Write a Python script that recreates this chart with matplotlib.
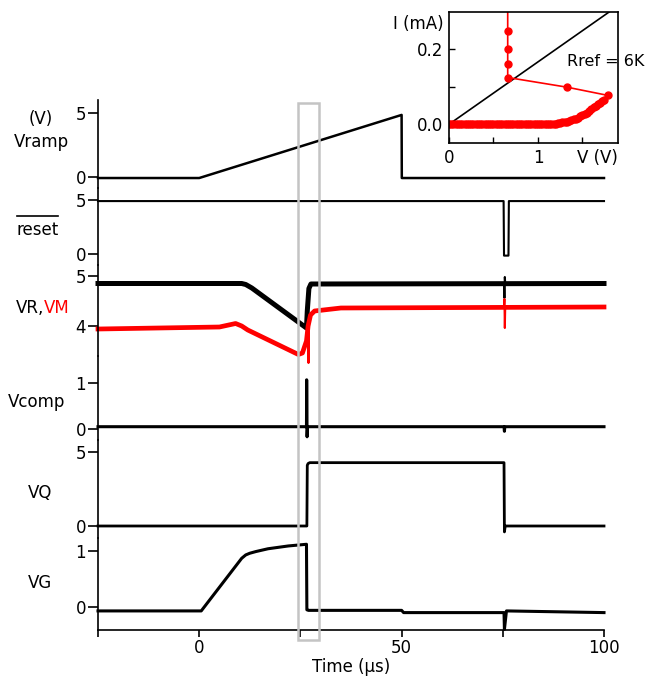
import matplotlib
matplotlib.use('Agg')
import matplotlib.pyplot as plt
from matplotlib.patches import Rectangle
from matplotlib.lines import Line2D
import matplotlib.transforms as mtransforms

plt.rcParams['font.family'] = ['DejaVu Sans']

# ---------------- data ----------------
# time in microseconds, voltages in V
t_ramp = [-25, 0, 50, 50.05, 100]
v_ramp = [-0.08, -0.08, 4.85, -0.08, -0.08]

t_reset = [-25, 75.2, 75.3, 76.4, 76.5, 100]
v_reset = [4.9, 4.9, -0.15, -0.15, 4.9, 4.9]

t_vr = [-25, 10.5, 11.5, 13, 26.5, 26.7, 27.1, 27.6, 100]
v_vr = [4.85, 4.85, 4.83, 4.76, 3.96, 4.3, 4.75, 4.84, 4.85]
t_vr_spike = [75.3, 75.4, 75.5, 75.6]
v_vr_spike = [4.85, 4.56, 4.98, 4.85]

t_vm = [-25, 5, 9, 10.5, 12, 24.5, 25.5, 26.5, 26.9, 27.5, 28.5, 35, 100]
v_vm = [3.94, 3.98, 4.05, 4.0, 3.92, 3.43, 3.46, 3.7, 4.0, 4.22, 4.3, 4.36, 4.38]
t_vm_spike1 = [26.9, 27.0, 27.1]
v_vm_spike1 = [4.0, 3.26, 4.1]
t_vm_spike2 = [75.3, 75.4, 75.5, 75.6]
v_vm_spike2 = [4.37, 4.54, 3.96, 4.37]

t_comp = [-25, 26.5, 26.55, 26.65, 26.75, 75.3, 75.4, 75.5, 100]
v_comp = [0.05, 0.05, 1.07, -0.17, 0.05, 0.05, -0.05, 0.05, 0.05]

t_vq = [-25, 26.6, 26.7, 26.9, 27.3, 75.3, 75.4, 75.6, 100]
v_vq = [0.0, 0.0, 4.1, 4.22, 4.28, 4.28, -0.4, 0.0, 0.0]

t_vg = [-25, 0.5, 10.5, 11.5, 12.5, 14, 17, 22, 26.5, 26.6, 27, 50, 50.5, 75.3, 75.4, 75.9, 100]
v_vg = [-0.07, -0.07, 0.87, 0.93, 0.96, 0.99, 1.04, 1.09, 1.12, -0.05, -0.06, -0.06, -0.1, -0.1, -0.4, -0.07, -0.1]

highlight_window = (24.4, 29.6)

# inset: I-V curve (V in volts, I in mA)
iv_v = [0.000, 0.025, 0.050, 0.075, 0.100, 0.125, 0.150, 0.175, 0.200, 0.225,
        0.250, 0.275, 0.300, 0.325, 0.350, 0.375, 0.400, 0.425, 0.450, 0.475,
        0.500, 0.525, 0.550, 0.575, 0.600, 0.625, 0.650, 0.675, 0.700, 0.725,
        0.750, 0.775, 0.800, 0.825, 0.850, 0.875, 0.900, 0.925, 0.950, 0.975,
        1.000, 1.025, 1.050, 1.075, 1.100, 1.125, 1.150, 1.175, 1.200, 1.225,
        1.250, 1.275, 1.300, 1.325, 1.350, 1.375, 1.400, 1.425, 1.450, 1.475,
        1.500, 1.525, 1.550, 1.575, 1.600, 1.625, 1.650, 1.675, 1.700, 1.720,
        1.740, 1.790, 1.330, 0.660, 0.660, 0.660, 0.660, 0.660]
iv_i = [0.000, 0.000, 0.000, 0.000, 0.000, 0.000, 0.000, 0.000, 0.000, 0.000,
        0.000, 0.000, 0.000, 0.000, 0.000, 0.000, 0.000, 0.000, 0.000, 0.000,
        0.000, 0.000, 0.000, 0.000, 0.000, 0.000, 0.000, 0.000, 0.000, 0.000,
        0.000, 0.000, 0.000, 0.000, 0.000, 0.000, 0.000, 0.000, 0.000, 0.000,
        0.000, 0.000, 0.001, 0.001, 0.001, 0.001, 0.002, 0.002, 0.002, 0.003,
        0.004, 0.005, 0.006, 0.007, 0.009, 0.011, 0.013, 0.015, 0.018, 0.021,
        0.024, 0.027, 0.031, 0.035, 0.040, 0.045, 0.049, 0.053, 0.057, 0.061,
        0.065, 0.077, 0.099, 0.125, 0.160, 0.200, 0.250, 0.400]
rref_v = [0.0, 1.8]
rref_i = [0.0, 0.3]

# ---------------- figure ----------------
W, H = 646, 688
fig = plt.figure(figsize=(W / 100, H / 100), dpi=100)


def fx(px):
    return px / W


def fy(py):
    return 1 - py / H


XL, XR = 98, 604
FS = 12
RED = '#ff0000'


def panel(top, bot, v0, p0, v1, p1):
    ax = fig.add_axes([fx(XL), fy(bot), (XR - XL) / W, (bot - top) / H])
    ppv = (p0 - p1) / (v1 - v0)
    ax.set_ylim(v0 - (bot - p0) / ppv, v0 + (p0 - top) / ppv)
    ax.set_xlim(-25, 100)
    for s in ['top', 'right', 'bottom']:
        ax.spines[s].set_visible(False)
    ax.spines['left'].set_linewidth(1.2)
    ax.set_yticks([v0, v1])
    ax.tick_params(axis='y', direction='out', length=7, width=1.2,
                   labelsize=FS, pad=1.5)
    ax.tick_params(axis='x', bottom=False, labelbottom=False)
    ax.patch.set_visible(False)
    return ax


ax1 = panel(100, 188, 0, 177, 5, 113)
ax2 = panel(188, 265, 0, 254, 5, 200)
ax3 = panel(265, 356, 4, 326, 5, 276)
ax4 = panel(356, 440, 0, 429, 1, 383)
ax5 = panel(440, 538, 0, 526, 5, 452)
ax6 = panel(538, 630, 0, 607, 1, 551)

ax1.plot(t_ramp, v_ramp, color='black', lw=1.8, clip_on=False)
ax2.plot(t_reset, v_reset, color='black', lw=1.5, clip_on=False)
ax3.plot(t_vr, v_vr, color='black', lw=3.6, clip_on=False)
ax3.plot(t_vr_spike, v_vr_spike, color='black', lw=1.5, clip_on=False)
ax3.plot(t_vm, v_vm, color=RED, lw=3.4, clip_on=False)
ax3.plot(t_vm_spike1, v_vm_spike1, color=RED, lw=1.5, clip_on=False)
ax3.plot(t_vm_spike2, v_vm_spike2, color=RED, lw=1.5, clip_on=False)
ax4.plot(t_comp, v_comp, color='black', lw=2.2, clip_on=False)
ax5.plot(t_vq, v_vq, color='black', lw=2.0, clip_on=False)
ax6.plot(t_vg, v_vg, color='black', lw=2.2, clip_on=False)

# bottom time axis
ax6.spines['bottom'].set_visible(True)
ax6.spines['bottom'].set_linewidth(1.2)
ax6.set_xticks([0, 50, 100])
ax6.set_xticks([-25, 25, 75], minor=True)
ax6.tick_params(axis='x', which='both', bottom=True, labelbottom=True,
                direction='out', length=5, width=1.2, labelsize=FS, pad=1.5)
ax6.set_xlabel('Time (µs)', fontsize=FS, labelpad=1)

# panel labels
fig.text(fx(41), fy(119), '(V)', fontsize=FS, ha='center', va='center')
fig.text(fx(41), fy(142), 'Vramp', fontsize=FS, ha='center', va='center')
fig.text(fx(38), fy(230), 'reset', fontsize=FS, ha='center', va='center')
fig.add_artist(Line2D([fx(17), fx(58)], [fy(216), fy(216)], color='black', lw=1.2,
                      transform=fig.transFigure))
fig.text(fx(44), fy(308), 'VR,', fontsize=FS, ha='right', va='center')
fig.text(fx(44), fy(308), 'VM', fontsize=FS, ha='left', va='center', color=RED)
fig.text(fx(37), fy(402), 'Vcomp', fontsize=FS, ha='center', va='center')
fig.text(fx(40), fy(493), 'VQ', fontsize=FS, ha='center', va='center')
fig.text(fx(40), fy(583), 'VG', fontsize=FS, ha='center', va='center')

# gray highlight box
trans = mtransforms.blended_transform_factory(ax6.transData, fig.transFigure)
rect = Rectangle((highlight_window[0], fy(640)), highlight_window[1] - highlight_window[0],
                 fy(103) - fy(640), transform=trans, fill=False,
                 edgecolor='#c4c4c4', lw=1.8, zorder=5)
fig.add_artist(rect)

# ---------------- inset ----------------
IL, IR, IT, IB = 449, 618, 12, 143
axi = fig.add_axes([fx(IL), fy(IB), (IR - IL) / W, (IB - IT) / H])
axi.set_xlim(0, 1.9)
axi.set_ylim(-0.05, 0.3)
axi.plot(rref_v, rref_i, color='black', lw=1.2)
axi.plot(iv_v, iv_i, color=RED, lw=1.2, marker='o', markersize=5)
for s in axi.spines.values():
    s.set_linewidth(1.2)
axi.set_xticks([0, 1])
axi.set_xticklabels(['0', '1'])
axi.set_xticks([0.5, 1.5], minor=True)
axi.set_yticks([0.0, 0.2])
axi.set_yticklabels(['0.0', '0.2'])
axi.set_yticks([0.1], minor=True)
axi.tick_params(axis='both', which='both', direction='in', length=4, width=1.0,
                labelsize=FS, pad=4)
axi.text(-0.03, 0.905, 'I (mA)', transform=axi.transAxes, ha='right', va='center',
         fontsize=FS)
axi.text(0.88, -0.115, 'V (V)', transform=axi.transAxes, ha='center', va='center',
         fontsize=FS)
axi.text(0.70, 0.62, 'Rref = 6K', transform=axi.transAxes, ha='left', va='center',
         fontsize=FS - 0.5)

fig.savefig('out.png', dpi=100)
